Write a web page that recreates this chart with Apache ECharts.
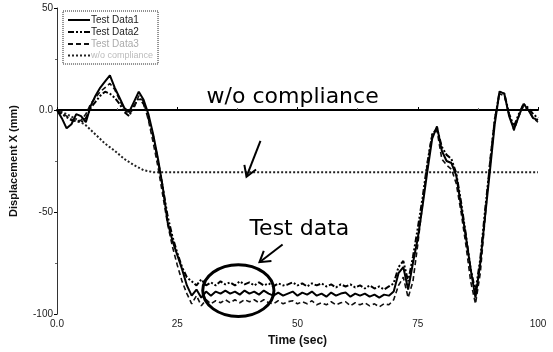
<!DOCTYPE html>
<html>
<head>
<meta charset="utf-8">
<script src="https://cdn.jsdelivr.net/npm/echarts@6/dist/echarts.min.js"></script>
<style>
  html, body { margin: 0; padding: 0; background: #fff; }
  #chart { width: 553px; height: 352px; }
</style>
</head>
<body>
<div id="chart"></div>
<script>
// Sample times (sec) shared by the three measured runs
const timeSec = [
  0, 1, 2, 3, 4, 5, 6, 7, 8, 9, 10, 11, 12, 13, 14, 15, 16, 17, 18, 19,
  20, 21, 22, 23, 24, 25, 26, 27, 28, 29, 30, 31, 32, 33, 34, 35, 36, 37, 38, 39,
  40, 41, 42, 43, 44, 45, 46, 47, 48, 49, 50, 51, 52, 53, 54, 55, 56, 57, 58, 59,
  60, 61, 62, 63, 64, 65, 66, 67, 68, 69, 70, 71, 72, 73, 74, 75, 76, 77, 78, 79,
  80, 81, 82, 83, 84, 85, 86, 87, 88, 89, 90, 91, 92, 93, 94, 95, 96, 97, 98, 99, 100
];

// Displacement X (mm) of each test run
const testData1 = [
  0, -4, -9, -7, -2, -3, -6, 2, 7, 11, 14, 17, 11, 6, 1, -1, 4, 9, 5, -2,
  -12, -24, -38, -55, -64, -71, -78, -86, -91, -88, -92, -89, -91, -89, -90, -88.5, -90, -89, -90.5, -88.5,
  -90, -89, -90.5, -88.5, -90, -91, -89.5, -91, -90, -89, -91, -89.5, -90.5, -89, -91, -90, -91.5, -89.5, -91, -90,
  -89.5, -91.5, -90, -91, -90, -91.5, -90.5, -92, -90.5, -91, -89, -80, -77, -88, -75, -63, -47, -30, -14, -8,
  -20, -25, -26, -32, -47, -62, -78, -92, -75, -52, -30, -7, 9, 8, -3, -9.5, -3, 3, 0, -4, -5
];
const testData2 = [
  0, -2, -3.5, -5, -5.5, -6, -4, 1, 4, 7, 9, 8, 6, 3, -1, -3, 2, 6, 3, -4,
  -13, -25, -38, -52, -62, -70, -77, -82, -84, -86, -83, -86, -84.5, -86, -84, -85.5, -84.5, -86, -84, -85.5,
  -84.5, -86, -84.5, -86, -85, -86.5, -85, -86, -85.5, -84.5, -86, -85, -86.5, -85, -86, -85, -86.5, -85.5, -87, -85.5,
  -86.5, -85.5, -87, -86, -87.5, -86, -87.5, -86.5, -88, -86.5, -85, -77, -74, -84, -72, -58, -43, -26, -12, -9,
  -18, -22, -24, -31, -45, -61, -78, -89, -73, -49, -27, -5, 9, 8, -2, -8, -2, 3, 1, -2, -4
];
const testData3 = [
  0, -1.5, -3, -4.5, -5.5, -5, -2, 3, 6, 9, 11, 13, 10, 5, 0, -2, 1, 7, 4, -5,
  -16, -28, -42, -56, -67, -76, -84, -90, -95, -91, -96, -93, -95, -93.5, -94.5, -93, -94.5, -93, -94.5, -93,
  -94, -93, -94.5, -93, -94.5, -95, -93.5, -95, -94, -93.5, -95, -94, -95, -93.5, -95.5, -94.5, -95.5, -94, -95.5, -94.5,
  -94, -96, -94.5, -95.5, -94.5, -96, -95, -96.5, -95, -95.5, -93, -86, -82, -92, -84, -66, -46, -26, -12, -10,
  -24, -27, -29, -36, -50, -66, -84, -95, -80, -53, -25, -4, 8, 7, -2, -10, -3, 2, 0, -4, -6
];

// Simulated response without compliance
const noComplianceTime = [0, 2, 4, 6, 8, 10, 12, 14, 16, 18, 20, 100];
const noComplianceValues = [0, -2, -4.5, -7.5, -12, -16.5, -20, -24, -27, -29.5, -30.5, -30.5];

// Axis ticks
const xTicks = [0, 25, 50, 75, 100];
const yTicks = [-100, -50, 0, 50];

const seriesNames = ['Test Data1', 'Test Data2', 'Test Data3', 'w/o compliance'];

// Callouts, placed in data units (time, displacement)
const noteNoCompliance = { text: 'w/o compliance', at: [31.1, 6.3], arrowFrom: [42.3, -15.1], arrowTo: [39.4, -32.7] };
const noteTestData = { text: 'Test data', at: [40.0, -58.5], arrowFrom: [46.9, -65.9], arrowTo: [42.1, -74.6] };
const ringCenter = [37.7, -88.5];
const ringRadius = [7.4, 12.7];

const zip = (xs, ys) => xs.map((x, i) => [x, ys[i]]);
const tickFont = 'Liberation Sans Narrow, Arial Narrow, Liberation Sans, Arial, sans-serif';

const chart = echarts.init(document.getElementById('chart'), null, { renderer: 'canvas' });

chart.setOption({
  animation: false,
  backgroundColor: '#fff',
  grid: { left: 57, right: 15, top: 8, bottom: 37, containLabel: false },
  legend: {
    orient: 'vertical',
    left: 63,
    top: 11,
    padding: [4, 5, 4, 4],
    itemGap: 2,
    itemWidth: 22,
    itemHeight: 10,
    borderColor: '#222',
    borderWidth: 1,
    borderType: 'dotted',
    itemStyle: { opacity: 0 },
    textStyle: { fontSize: 10, color: '#222', fontFamily: tickFont, padding: [0, 0, 0, -4] },
    data: [
      { name: seriesNames[0] },
      { name: seriesNames[1] },
      { name: seriesNames[2], textStyle: { color: '#aaa' } },
      { name: seriesNames[3], textStyle: { color: '#bbb', fontSize: 9 } }
    ]
  },
  xAxis: [
    {
      type: 'value', min: 0, max: 100, interval: 25,
      name: 'Time (sec)', nameLocation: 'middle', nameGap: 21,
      nameTextStyle: { fontSize: 12, color: '#111', fontFamily: tickFont, fontWeight: 'bold' },
      axisLine: { lineStyle: { color: '#000', width: 2 } },
      axisTick: { show: true, inside: true, length: 3, lineStyle: { color: '#000' } },
      minorTick: { show: true, splitNumber: 2, length: 2, lineStyle: { color: '#666' } },
      axisLabel: {
        fontSize: 10, color: '#222', fontFamily: tickFont, margin: 5,
        formatter: v => (xTicks.includes(v) ? (v === 0 ? '0.0' : String(v)) : '')
      },
      splitLine: { show: false }
    },
    {
      type: 'value', min: 0, max: 100, position: 'top',
      axisLine: { show: true, lineStyle: { color: '#555', width: 1, type: 'dotted' } },
      axisTick: { show: false }, axisLabel: { show: false }, splitLine: { show: false }
    }
  ],
  yAxis: [
    {
      type: 'value', min: -100, max: 50, interval: 50,
      name: 'Displacement X (mm)', nameLocation: 'middle', nameGap: 38,
      nameTextStyle: { fontSize: 11, color: '#111', fontFamily: 'Liberation Sans, Arial, sans-serif', fontWeight: 'bold' },
      axisLine: { show: true, lineStyle: { color: '#444', width: 1, type: 'dotted' } },
      axisTick: { show: true, length: 3, lineStyle: { color: '#000' } },
      minorTick: { show: true, splitNumber: 2, length: 2, lineStyle: { color: '#666' } },
      axisLabel: {
        fontSize: 10, color: '#222', fontFamily: tickFont, margin: 4,
        formatter: v => (yTicks.includes(v) ? (v === 0 ? '0.0' : String(v)) : '')
      },
      splitLine: { show: false }
    },
    {
      type: 'value', min: -100, max: 50, position: 'right',
      axisLine: { show: true, lineStyle: { color: '#333', width: 1 } },
      axisTick: { show: false }, axisLabel: { show: false }, splitLine: { show: false }
    }
  ],
  series: [
    {
      name: seriesNames[0], type: 'line', data: zip(timeSec, testData1),
      symbol: 'none', z: 4,
      lineStyle: { color: '#000', width: 2 },
      itemStyle: { color: '#000' },
      markLine: {
        silent: true, symbol: 'none', label: { show: false },
        lineStyle: { color: '#000', width: 1, type: 'solid' },
        data: [{ yAxis: 0 }]
      }
    },
    {
      name: seriesNames[1], type: 'line', data: zip(timeSec, testData2),
      symbol: 'none', z: 3,
      lineStyle: { color: '#000', width: 2, type: [6, 2, 2, 2, 2, 2] },
      itemStyle: { color: '#000' }
    },
    {
      name: seriesNames[2], type: 'line', data: zip(timeSec, testData3),
      symbol: 'none', z: 3,
      lineStyle: { color: '#111', width: 1.6, type: [5, 3] },
      itemStyle: { color: '#111' }
    },
    {
      name: seriesNames[3], type: 'line', data: zip(noComplianceTime, noComplianceValues),
      symbol: 'none', z: 2,
      lineStyle: { color: '#222', width: 2, type: [2, 2] },
      itemStyle: { color: '#222' }
    }
  ]
});

// Callout text, arrows and ring, converted from data units to pixels
const px = p => chart.convertToPixel({ xAxisIndex: 0, yAxisIndex: 0 }, p);

function arrow(from, to) {
  const a = px(from), b = px(to);
  const ang = Math.atan2(b[1] - a[1], b[0] - a[0]);
  const len = 12, spread = 0.55;
  const w1 = [b[0] - len * Math.cos(ang - spread), b[1] - len * Math.sin(ang - spread)];
  const w2 = [b[0] - len * Math.cos(ang + spread), b[1] - len * Math.sin(ang + spread)];
  return [
    { type: 'polyline', shape: { points: [a, b] }, style: { stroke: '#000', lineWidth: 2, fill: null }, z: 20 },
    { type: 'polyline', shape: { points: [w1, b, w2] }, style: { stroke: '#000', lineWidth: 2, fill: null }, z: 20 }
  ];
}

function label(note) {
  const p = px(note.at);
  return {
    type: 'text', x: p[0], y: p[1], z: 20,
    style: {
      text: note.text, fill: '#000', fontSize: 22,
      fontFamily: 'DejaVu Sans, Verdana, sans-serif',
      textAlign: 'left', textVerticalAlign: 'middle'
    }
  };
}

const c = px(ringCenter);
const edge = px([ringCenter[0] + ringRadius[0], ringCenter[1] + ringRadius[1]]);

chart.setOption({
  graphic: [
    label(noteNoCompliance),
    ...arrow(noteNoCompliance.arrowFrom, noteNoCompliance.arrowTo),
    label(noteTestData),
    ...arrow(noteTestData.arrowFrom, noteTestData.arrowTo),
    {
      type: 'ellipse', z: 20,
      shape: { cx: c[0], cy: c[1], rx: Math.abs(edge[0] - c[0]), ry: Math.abs(c[1] - edge[1]) },
      style: { stroke: '#000', lineWidth: 3, fill: null }
    }
  ]
});
</script>
</body>
</html>
